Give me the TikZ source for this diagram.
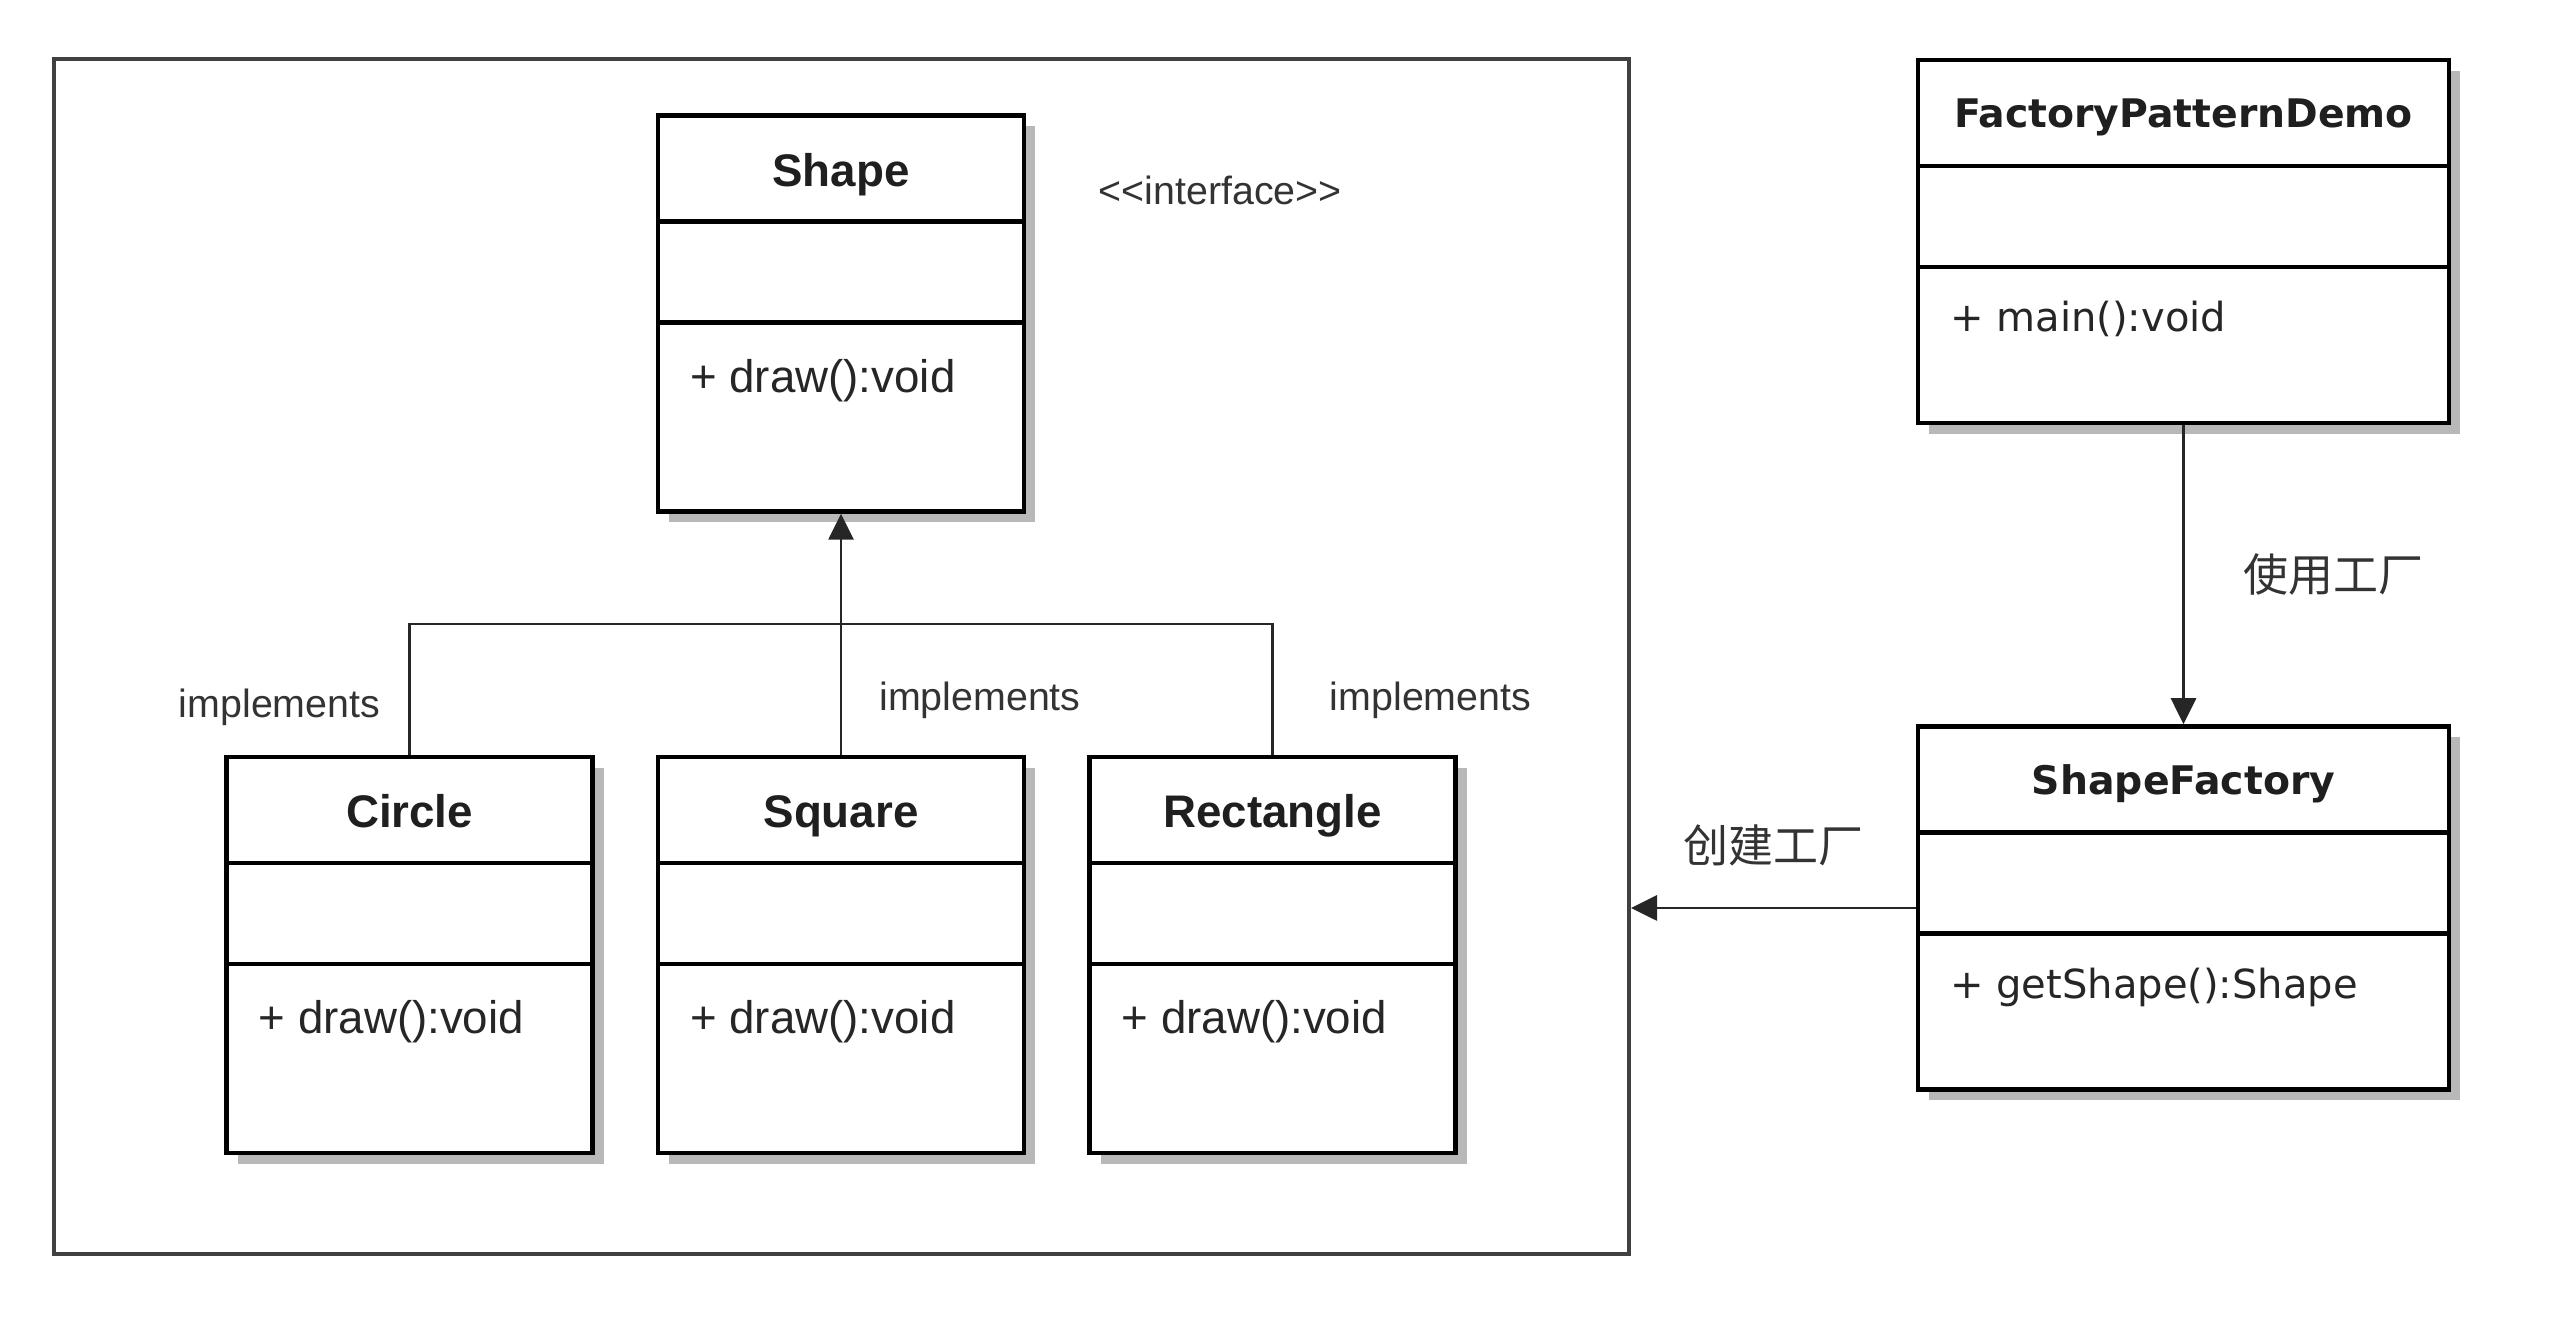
\documentclass[tikz,border=0pt]{standalone}
\usepackage{fontspec}
\setmainfont{Liberation Sans}
\newfontfamily\cjk{Noto Sans CJK SC}
\newfontfamily\wide{DejaVu Sans}
\usetikzlibrary{arrows.meta, positioning, calc, shadows}

\begin{document}
\begin{tikzpicture}[
    x=0.1mm, y=-0.1mm,
    node distance=6.1mm and 6.1mm,
    pkgframe/.style={rectangle, draw=black!75, line width=0.4mm, minimum width=157.5mm, minimum height=119.5mm},
    class/.style={rectangle, draw=black, line width=0.45mm, fill=white, minimum width=36.6mm, minimum height=39.6mm,
        drop shadow={shadow xshift=1.1mm, shadow yshift=-1.1mm, fill=black!28, opacity=1},
        path picture={\draw[line width=0.45mm]
            ([yshift=-10.6mm]path picture bounding box.north west) -- ([yshift=-10.6mm]path picture bounding box.north east)
            ([yshift=-20.7mm]path picture bounding box.north west) -- ([yshift=-20.7mm]path picture bounding box.north east);}},
    bigclass/.style={class, minimum width=53.1mm, minimum height=36.3mm},
    ctitle/.style={font=\fontsize{13}{15}\selectfont\bfseries, text=black!88, anchor=base},
    method/.style={font=\fontsize{13}{15}\selectfont, text=black!85, anchor=base west},
    btitle/.style={font=\wide\fontsize{11.2}{13}\selectfont\bfseries, text=black!88, anchor=base},
    bmethod/.style={font=\wide\fontsize{11.4}{13}\selectfont, text=black!85, anchor=base west},
    lbl/.style={font=\fontsize{11.2}{13}\selectfont, text=black!80},
    cnlbl/.style={font=\cjk\fontsize{12.8}{15}\selectfont, text=black!80},
    line/.style={line width=0.28mm, draw=black!85},
    arrow/.style={line, -{Triangle[length=2.6mm, width=2.5mm]}}
]
    \useasboundingbox (0,0) rectangle (2560,1330);

    \node[pkgframe] (frame) at (841.5,656.5) {};

    % interface and its implementations
    \node[class] (shape) at (841,313.5) {};
    \node[class, below=24.1mm of shape] (square) {};
    \node[class, left=of square] (circle) {};
    \node[class, right=of square] (rectangle) {};

    \node[ctitle] (shapeT) at ([yshift=-7.3mm]shape.north) {Shape};
    \node[method] (shapeM) at ([xshift=2.2mm, yshift=-27.9mm]shape.north west) {+ draw():void};
    \node[lbl] (stereo) at ([xshift=19.4mm, yshift=-7.7mm]shape.north east) {<{}<interface>{}>};

    \node[ctitle] (circleT) at ([yshift=-7.3mm]circle.north) {Circle};
    \node[method] (circleM) at ([xshift=2.2mm, yshift=-27.9mm]circle.north west) {+ draw():void};
    \node[ctitle] (squareT) at ([yshift=-7.3mm]square.north) {Square};
    \node[method] (squareM) at ([xshift=2.2mm, yshift=-27.9mm]square.north west) {+ draw():void};
    \node[ctitle] (rectangleT) at ([yshift=-7.3mm]rectangle.north) {Rectangle};
    \node[method] (rectangleM) at ([xshift=2.2mm, yshift=-27.9mm]rectangle.north west) {+ draw():void};

    % client and factory
    \node[bigclass] (demo) at (2183.5,241.5) {};
    \node[bigclass, below=29.9mm of demo] (factory) {};

    \node[btitle] (demoT) at ([yshift=-7.0mm]demo.north) {FactoryPatternDemo};
    \node[bmethod] (demoM) at ([xshift=2.2mm, yshift=-27.4mm]demo.north west) {+ main():void};
    \node[btitle] (factoryT) at ([yshift=-7.0mm]factory.north) {ShapeFactory};
    \node[bmethod] (factoryM) at ([xshift=2.2mm, yshift=-27.4mm]factory.north west) {+ getShape():Shape};

    % connectors
    \coordinate (bus) at (841,624);
    \draw[arrow] (square.north) -- (shape.south);
    \draw[line] (circle.north) |- (bus) -| (rectangle.north);
    \node[lbl] (implC) at ([xshift=-13.0mm, yshift=4.7mm]circle.north) {implements};
    \node[lbl] (implS) at ([xshift=13.9mm, yshift=5.4mm]square.north) {implements};
    \node[lbl] (implR) at ([xshift=15.8mm, yshift=5.4mm]rectangle.north) {implements};

    \draw[arrow] (demo.south) -- node[cnlbl, right=4.7mm] (useF) {使用工厂} (factory.north);
    \draw[arrow] (factory.west) -- node[cnlbl, above=2.9mm] (makeF) {创建工厂} (factory.west -| frame.east);

\end{tikzpicture}
\end{document}
